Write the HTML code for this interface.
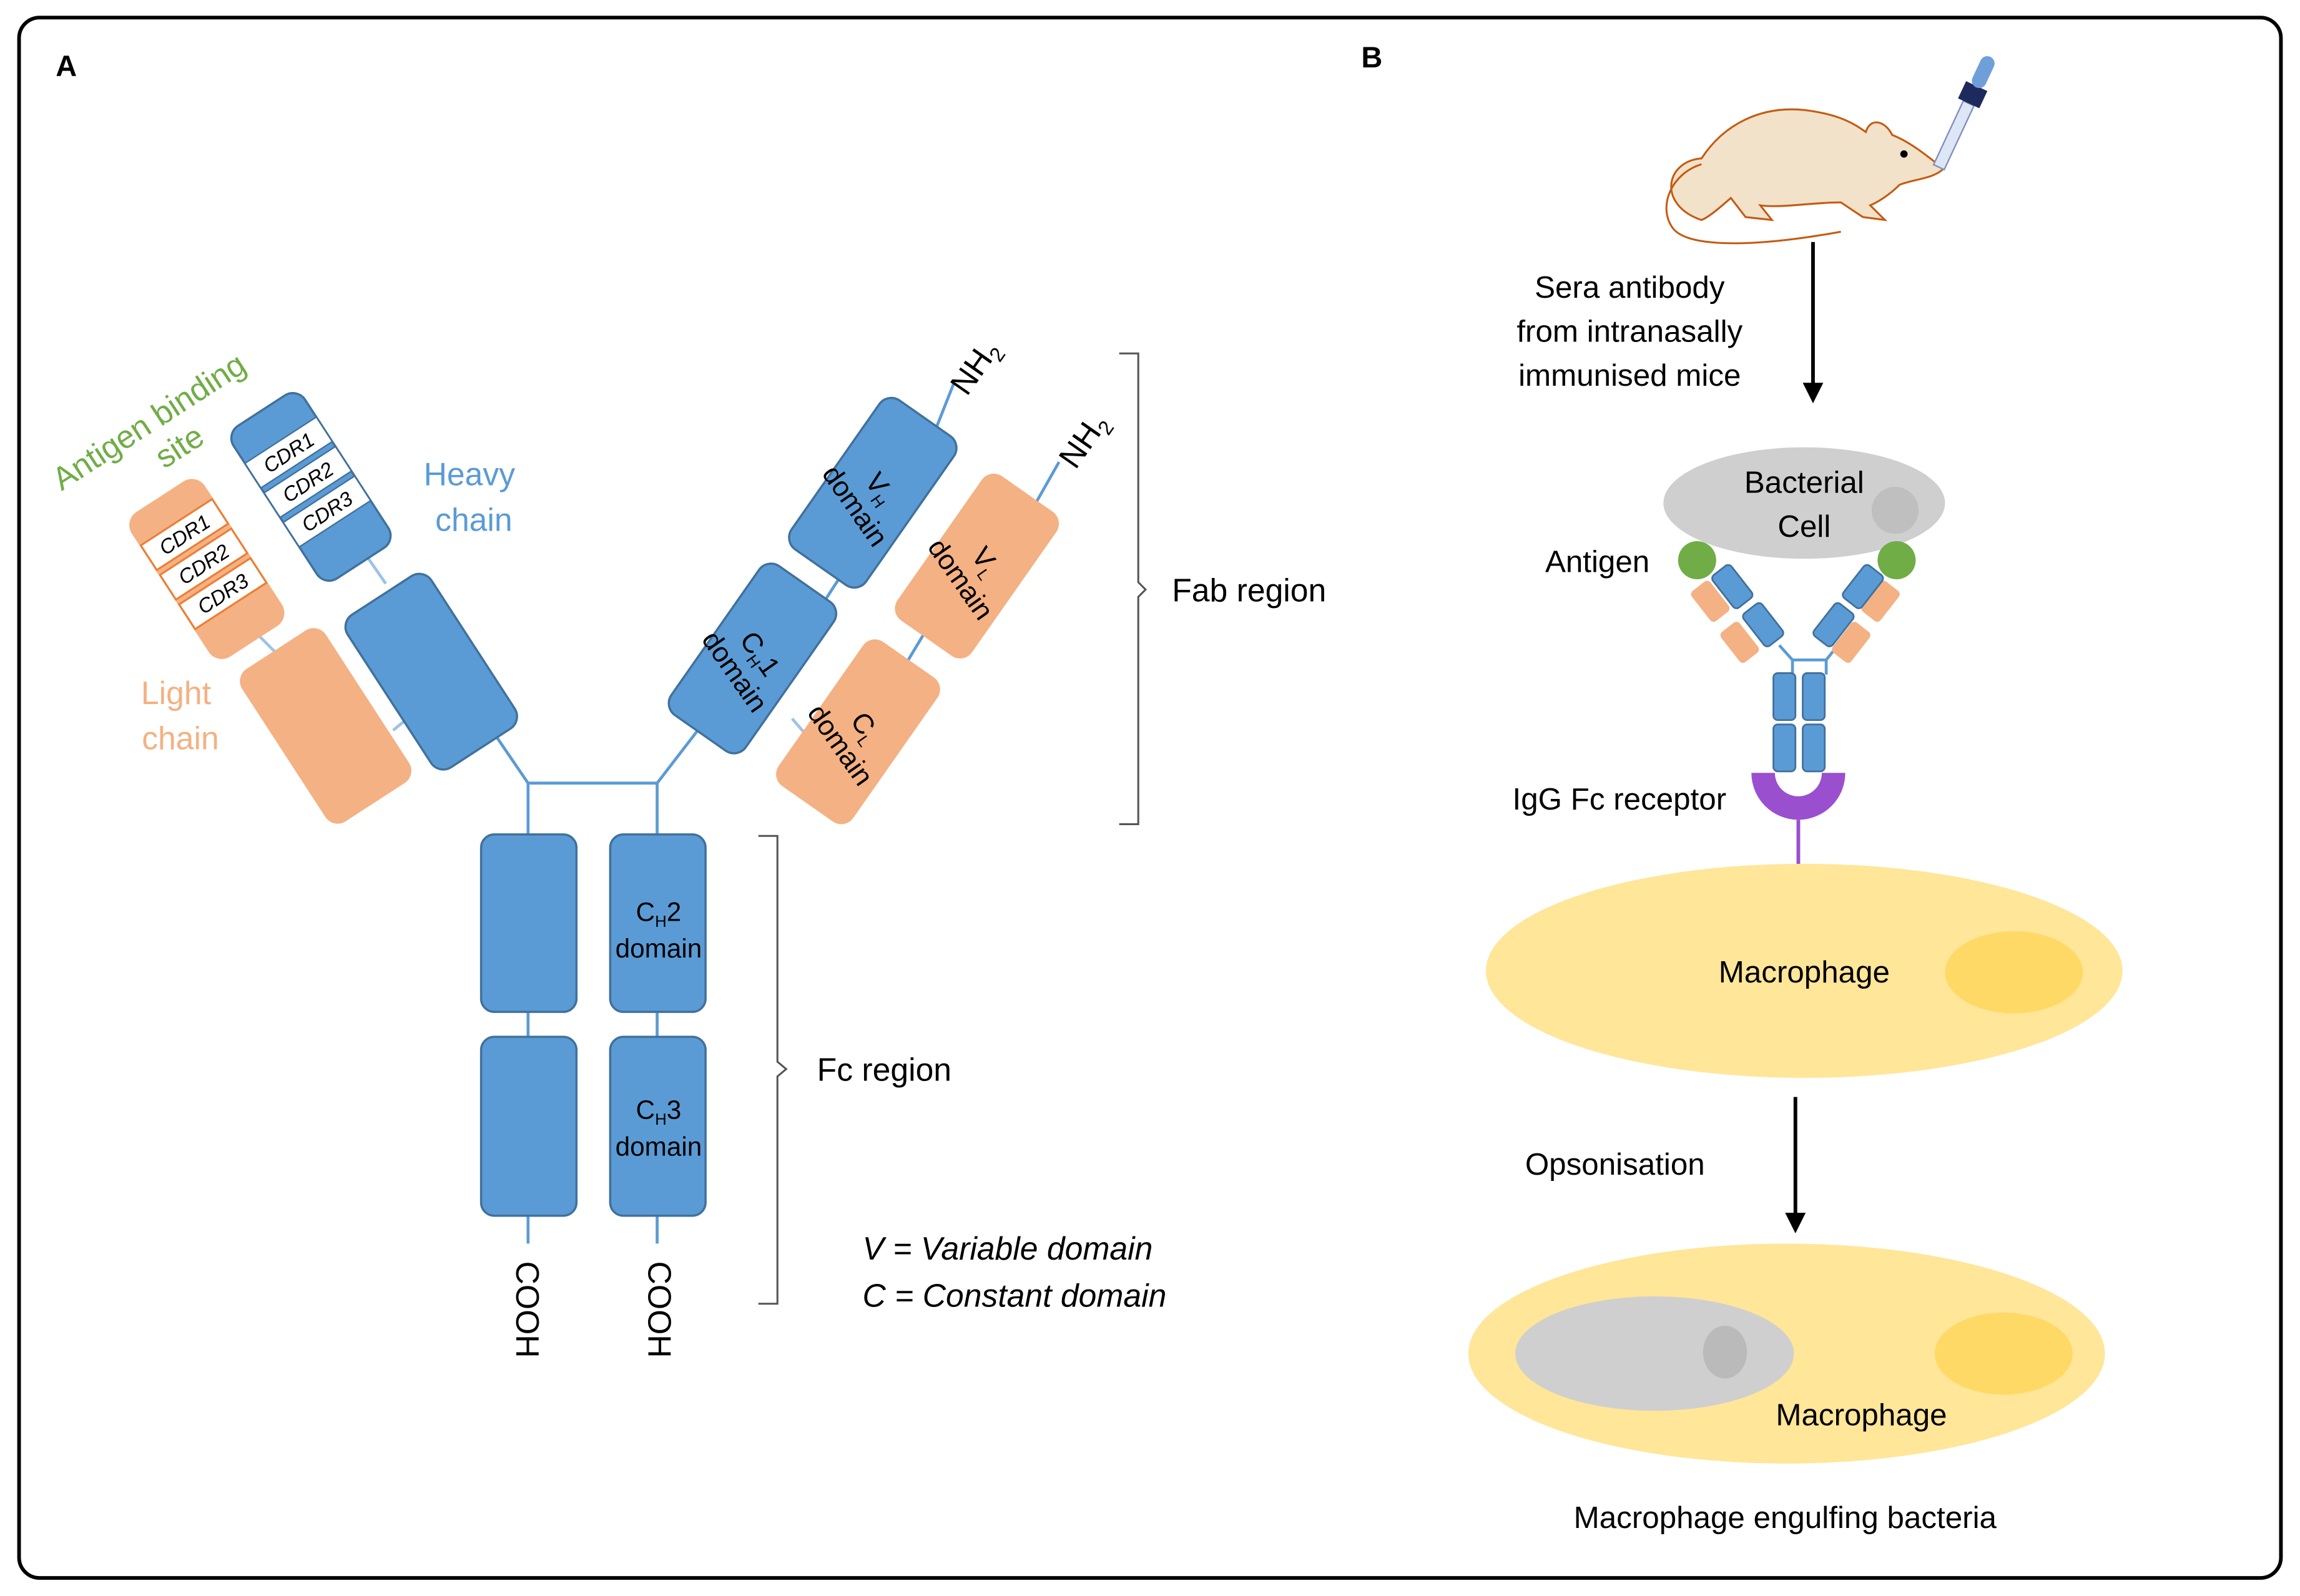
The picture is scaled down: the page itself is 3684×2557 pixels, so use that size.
<!DOCTYPE html>
<html><head><meta charset="utf-8"><style>
html,body{margin:0;padding:0;background:#fff}
svg{display:block}
text{font-family:"Liberation Sans",sans-serif}
</style></head><body>
<svg width="3684" height="2557" viewBox="0 0 1568 1088.3" xmlns="http://www.w3.org/2000/svg">
<rect x="13" y="12" width="1542" height="1064" rx="14" fill="#fff" stroke="#000" stroke-width="2.5"/>
<text x="38" y="52" font-size="20" font-weight="bold">A</text>
<text x="928" y="46" font-size="20" font-weight="bold">B</text>

<g stroke="#5b9bd5" stroke-width="2" fill="none">
<polyline points="330,490 360,534 448,534 478,495"/>
<line x1="360" y1="534" x2="360" y2="569"/>
<line x1="448" y1="534" x2="448" y2="569"/>
<line x1="360" y1="690" x2="360" y2="707"/>
<line x1="448" y1="690" x2="448" y2="707"/>
<line x1="360" y1="829" x2="360" y2="848"/>
<line x1="448" y1="829" x2="448" y2="848"/>
<line x1="245" y1="372" x2="263" y2="398" stroke="#9dc3e6"/>
<line x1="170" y1="427" x2="190" y2="447" stroke="#9dc3e6"/>
<line x1="268" y1="498" x2="285" y2="484" stroke="#9dc3e6"/>
<line x1="575" y1="390" x2="562" y2="410"/>
<line x1="635" y1="300" x2="650" y2="262"/>
<line x1="705" y1="345" x2="722" y2="315"/>
<line x1="630" y1="432" x2="618" y2="452"/>
<line x1="540" y1="490" x2="553" y2="505" stroke="#9dc3e6"/>
</g>

<g transform="translate(212,332) rotate(-33)">
<rect x="-29" y="-62" width="58" height="124" rx="10" fill="#5b9bd5" stroke="#41719c" stroke-width="1.5"/>
<g fill="#fff" stroke="#41719c" stroke-width="1"><rect x="-29" y="-38" width="58" height="20"/><rect x="-29" y="-14" width="58" height="20"/><rect x="-29" y="10" width="58" height="20"/></g>
<g font-size="14" text-anchor="middle" font-style="italic"><text x="0" y="-23">CDR1</text><text x="0" y="1">CDR2</text><text x="0" y="25">CDR3</text></g>
</g>
<g transform="translate(294,458) rotate(-33)"><rect x="-34" y="-62" width="68" height="124" rx="10" fill="#5b9bd5" stroke="#41719c" stroke-width="1.5"/></g>
<g transform="translate(141,388) rotate(-33)">
<rect x="-29" y="-58" width="58" height="116" rx="10" fill="#f4b183" stroke="#f4b183" stroke-width="1.5"/>
<g fill="#fff" stroke="#ed7d31" stroke-width="1.3"><rect x="-29" y="-38" width="58" height="20"/><rect x="-29" y="-14" width="58" height="20"/><rect x="-29" y="10" width="58" height="20"/></g>
<g font-size="14" text-anchor="middle" font-style="italic"><text x="0" y="-23">CDR1</text><text x="0" y="1">CDR2</text><text x="0" y="25">CDR3</text></g>
</g>
<g transform="translate(222,495) rotate(-33)"><rect x="-34" y="-62" width="68" height="124" rx="10" fill="#f4b183"/></g>

<g transform="translate(595,336) rotate(35)"><rect x="-31" y="-62" width="62" height="124" rx="10" fill="#5b9bd5" stroke="#41719c" stroke-width="1.5"/></g>
<g transform="translate(513,449) rotate(35)"><rect x="-31" y="-62" width="62" height="124" rx="10" fill="#5b9bd5" stroke="#41719c" stroke-width="1.5"/></g>
<g transform="translate(666,386) rotate(35)"><rect x="-31" y="-60" width="62" height="120" rx="10" fill="#f4b183"/></g>
<g transform="translate(585,499) rotate(35)"><rect x="-31" y="-60" width="62" height="120" rx="10" fill="#f4b183"/></g>
<g font-size="19" text-anchor="middle">
<g transform="translate(590,340) rotate(55)"><text x="0" y="-6">V<tspan font-size="11" dy="4">H</tspan></text><text x="0" y="15">domain</text></g>
<g transform="translate(508,453) rotate(55)"><text x="0" y="-6">C<tspan font-size="11" dy="4">H</tspan><tspan dy="-4">1</tspan></text><text x="0" y="15">domain</text></g>
<g transform="translate(662,390) rotate(55)"><text x="0" y="-6">V<tspan font-size="11" dy="4">L</tspan></text><text x="0" y="15">domain</text></g>
<g transform="translate(580,503) rotate(55)"><text x="0" y="-6">C<tspan font-size="11" dy="4">L</tspan></text><text x="0" y="15">domain</text></g>
<g transform="translate(664,250) rotate(-55)"><text x="0" y="8" font-size="22">NH<tspan font-size="14" dy="5">2</tspan></text></g>
<g transform="translate(738,300) rotate(-55)"><text x="0" y="8" font-size="22">NH<tspan font-size="14" dy="5">2</tspan></text></g>
</g>

<g fill="#5b9bd5" stroke="#41719c" stroke-width="1.5">
<rect x="328" y="569" width="65" height="121" rx="9"/><rect x="416" y="569" width="65" height="121" rx="9"/>
<rect x="328" y="707" width="65" height="122" rx="9"/><rect x="416" y="707" width="65" height="122" rx="9"/>
</g>
<g font-size="18" text-anchor="middle">
<text x="449" y="628">C<tspan font-size="11" dy="4">H</tspan><tspan dy="-4">2</tspan></text><text x="449" y="653">domain</text>
<text x="449" y="763">C<tspan font-size="11" dy="4">H</tspan><tspan dy="-4">3</tspan></text><text x="449" y="788">domain</text>
</g>
<g font-size="22"><text transform="translate(352,860) rotate(90)">COOH</text><text transform="translate(442,860) rotate(90)">COOH</text></g>

<text transform="translate(42,335) rotate(-33)" font-size="22" fill="#70ad47">Antigen binding</text>
<text transform="translate(112,320) rotate(-33)" font-size="22" fill="#70ad47">site</text>
<text x="320" y="331" font-size="22" fill="#5b9bd5" text-anchor="middle">Heavy</text>
<text x="323" y="362" font-size="22" fill="#5b9bd5" text-anchor="middle">chain</text>
<text x="120" y="480" font-size="22" fill="#f4b183" text-anchor="middle">Light</text>
<text x="123" y="511" font-size="22" fill="#f4b183" text-anchor="middle">chain</text>

<g stroke="#555" stroke-width="1.3" fill="none">
<path d="M763,241 H776 V397 L781,402 L776,407 V562 H763"/>
<path d="M517,570 H530 V724 L536,729 L530,734 V889 H517"/>
</g>
<text x="799" y="410" font-size="22">Fab region</text>
<text x="557" y="737" font-size="22">Fc region</text>
<text x="588" y="859" font-size="22" font-style="italic">V = Variable domain</text>
<text x="588" y="891" font-size="22" font-style="italic">C = Constant domain</text>

<g stroke="#c55a11" stroke-width="1.3" fill="#f2e2c9">
<path d="M1160,150 C1130,140 1135,110 1160,108 C1175,85 1200,72 1230,75 C1255,78 1265,85 1272,90 C1275,80 1285,82 1290,92 C1305,98 1318,110 1325,115 C1318,122 1305,122 1295,126 C1288,133 1280,138 1275,140 L1285,150 L1270,148 L1255,138 C1235,138 1215,142 1200,140 L1208,150 L1190,148 L1180,135 C1172,142 1165,148 1160,150 Z"/>
<path d="M1160,112 C1140,118 1130,140 1140,155 C1150,170 1200,168 1255,158" fill="none"/>
</g>
<circle cx="1298" cy="105" r="2.5" fill="#000"/>
<g transform="translate(1340,75) rotate(25)">
<rect x="-4" y="-5" width="8" height="48" fill="#dde6f5" stroke="#7f8fc0" stroke-width="1"/>
<rect x="-8" y="-18" width="16" height="13" fill="#1f2a5c"/>
<rect x="-5" y="-40" width="10" height="23" rx="5" fill="#6f9fd8"/>
</g>
<line x1="1236" y1="165" x2="1236" y2="262" stroke="#000" stroke-width="2.5"/>
<polygon points="1229,261 1243,261 1236,275" fill="#000"/>
<g font-size="21" text-anchor="middle">
<text x="1111" y="203">Sera antibody</text>
<text x="1111" y="233">from intranasally</text>
<text x="1111" y="263">immunised mice</text>
</g>

<ellipse cx="1230" cy="343" rx="96" ry="38" fill="#d0cfcf"/>
<circle cx="1292" cy="348" r="16" fill="#bfbfbf"/>
<text x="1230" y="336" font-size="21" text-anchor="middle">Bacterial</text>
<text x="1230" y="366" font-size="21" text-anchor="middle">Cell</text>
<text x="1089" y="390" font-size="21" text-anchor="middle">Antigen</text>
<circle cx="1157" cy="382" r="13" fill="#70ad47"/>
<circle cx="1293" cy="382" r="13" fill="#70ad47"/>

<g stroke="#5b9bd5" stroke-width="2" fill="none"><polyline points="1213,440 1222,450 1245,450 1253,440"/><line x1="1222" y1="450" x2="1222" y2="460"/><line x1="1245" y1="450" x2="1245" y2="460"/></g>
<g fill="#f4b183">
<rect x="-8" y="-13" width="16" height="26" rx="3" transform="translate(1166,410) rotate(-38)"/>
<rect x="-8" y="-13" width="16" height="26" rx="3" transform="translate(1186,438) rotate(-38)"/>
<rect x="-8" y="-13" width="16" height="26" rx="3" transform="translate(1282,410) rotate(38)"/>
<rect x="-8" y="-13" width="16" height="26" rx="3" transform="translate(1262,438) rotate(38)"/>
</g>
<g fill="#5b9bd5" stroke="#41719c" stroke-width="1.2">
<rect x="-8" y="-14" width="16" height="28" rx="3" transform="translate(1181,400) rotate(-38)"/>
<rect x="-8" y="-14" width="16" height="28" rx="3" transform="translate(1202,426) rotate(-38)"/>
<rect x="-8" y="-14" width="16" height="28" rx="3" transform="translate(1270,400) rotate(38)"/>
<rect x="-8" y="-14" width="16" height="28" rx="3" transform="translate(1250,426) rotate(38)"/>
<rect x="1209" y="459" width="15" height="32" rx="3"/><rect x="1229" y="459" width="15" height="32" rx="3"/>
<rect x="1209" y="494" width="15" height="32" rx="3"/><rect x="1229" y="494" width="15" height="32" rx="3"/>
</g>
<path d="M1194,527 A32,32 0 0 0 1258,527 L1242,527 A16,16 0 0 1 1210,527 Z" fill="#9a4fcf"/>
<line x1="1226" y1="559" x2="1226" y2="592" stroke="#9a4fcf" stroke-width="2.5"/>
<text x="1104" y="552" font-size="21" text-anchor="middle">IgG Fc receptor</text>

<ellipse cx="1230" cy="662" rx="217" ry="73" fill="#ffe699"/>
<ellipse cx="1373" cy="663" rx="47" ry="28" fill="#ffd966"/>
<text x="1230" y="670" font-size="21" text-anchor="middle">Macrophage</text>

<line x1="1224" y1="748" x2="1224" y2="828" stroke="#000" stroke-width="2.5"/>
<polygon points="1217,827 1231,827 1224,841" fill="#000"/>
<text x="1101" y="801" font-size="21" text-anchor="middle">Opsonisation</text>

<ellipse cx="1218" cy="923" rx="217" ry="75" fill="#ffe699"/>
<ellipse cx="1128" cy="923" rx="95" ry="39" fill="#d0cfcf"/>
<ellipse cx="1176" cy="922" rx="15" ry="18" fill="#bababa"/>
<ellipse cx="1366" cy="923" rx="47" ry="28" fill="#ffd966"/>
<text x="1269" y="972" font-size="21" text-anchor="middle">Macrophage</text>
<text x="1217" y="1042" font-size="21" text-anchor="middle">Macrophage engulfing bacteria</text>
</svg>
</body></html>
